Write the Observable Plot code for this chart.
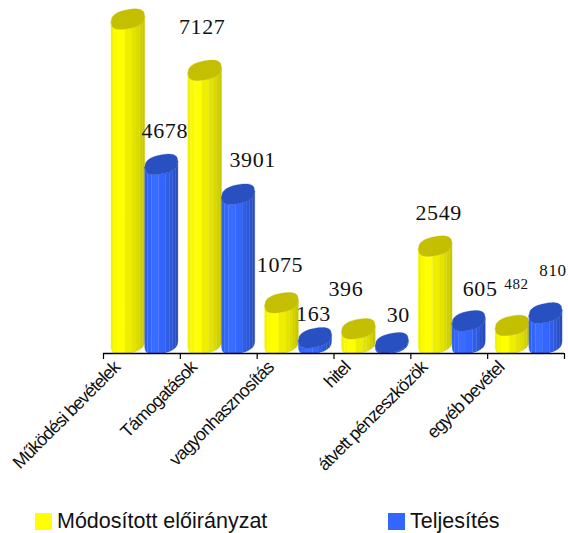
<!DOCTYPE html>
<html><head><meta charset="utf-8">
<script src="https://cdn.jsdelivr.net/npm/d3@7"></script>
<script src="https://cdn.jsdelivr.net/npm/@observablehq/plot@0.6"></script>
<style>
html,body{margin:0;padding:0;background:#fff}
#wrap{position:relative;width:568px;height:533px;overflow:hidden}
#chart svg{display:block;background:none}
#chart svg [font-family="Liberation Sans"]{letter-spacing:-0.9px}
#chart svg [font-family="Liberation Serif"]{letter-spacing:0.6px}
.lg{position:absolute;top:508px;font:21.5px "Liberation Sans",Arial,sans-serif;color:#111;white-space:nowrap;line-height:26px}
.sw{position:absolute;top:5px;width:17px;height:17px}
</style></head><body>
<div id="wrap"><div id="chart"></div>
<div id="legend"></div></div>
<script>
const categories = ["Működési bevételek","Támogatások","vagyonhasznosítás","hitel","átvett pénzeszközök","egyéb bevétel"];
const seriesNames = ["Módosított előirányzat","Teljesítés"];
const modositott = [8460,7127,1075,396,2549,482];
const teljesites = [4678,3901,163,30,605,810];
// the first bar's label falls outside the reference picture
const labelShown = [[false,true],[true,true],[true,true],[true,true],[true,true],[true,true]];

// styling and layout, separate from the data
const plotH = 500, baseY = 353, zeroY = 344, pxPerUnit = 0.0384, W = 568;
const yFloor = -(baseY - zeroY) / pxPerUnit, yTop = zeroY / pxPerUnit;
const u = px => px / pxPerUnit;
const slot = [[0.104,0.543],[0.543,0.975]];
const stops = [0,.08,.2,.42,.62,.74,.84,.93,1];
const shades = [
  ["#f2f200","#fbfb00","#ffff00","#eeee00","#e4e400","#dcdc00","#d2d200","#c8c800"],
  ["#3060f0","#3366ff","#3a6cff","#3366ff","#2f5ee8","#2c58dc","#2a52cc","#284cbc"]];
const capCol = ["#c4bf00","#2850c0"];
const legendCol = ["#ffff00","#3366ff"];
const tilt = 3, capH = 9.5, capPow = 2.5;
const nudges = [[null,[3,-34]],[[-3,-44],[14,-35]],[[-2,-38],[-2,-24]],[[-13,-40],[6,-28]],[[3,-34],[11,-32]],[[4,-42],[7,-43]]];
const labelSize = [[0,22],[22,22],[22,22],[22,22],[22,22],[15,17]];

const bulge = t => Math.pow(Math.max(0,1-Math.pow(Math.abs(t),capPow)),1/capPow);
const lower = t => tilt*t - capH*bulge(t);
const upper = t => tilt*t + capH*bulge(t);

const strips = [], caps = [], labels = [];
categories.forEach((c,i) => [modositott[i],teljesites[i]].forEach((v,s) => {
  const [a,b] = slot[s];
  const X = t => i + a + (b-a)*(t+1)/2;
  for (let k=0;k<stops.length-1;k++){
    for (let n=0;n<=6;n++){
      const f = stops[k]+(stops[k+1]-stops[k])*n/6, t = f*2-1;
      strips.push({z:`${i}-${s}-${k}`, x:X(t), y1:Math.max(yFloor,u(lower(t))), y2:v+u(lower(t)), col:shades[s][k]});
    }
  }
  for (let n=0;n<=40;n++){
    const t=-1+n/20;
    caps.push({z:`${i}-${s}`, x:X(t), y1:v+u(lower(t)), y2:v+u(upper(t)), col:capCol[s]});
  }
  if (labelShown[i][s]) labels.push({x:i+(a+b)/2, v, dx:nudges[i][s][0], dy:nudges[i][s][1], size:labelSize[i][s]});
}));
// draw order: each bar's body directly followed by its cap
const order = [];
categories.forEach((c,i)=>[0,1].forEach(s=>{
  order.push(Plot.areaY(strips.filter(d=>d.z.startsWith(`${i}-${s}-`)),{x:"x",y1:"y1",y2:"y2",z:"z",fill:"col",stroke:"col",strokeWidth:0.3}));
  order.push(Plot.areaY(caps.filter(d=>d.z===`${i}-${s}`),{x:"x",y1:"y1",y2:"y2",z:"z",fill:"col",stroke:"col",strokeWidth:0.3}));
}));

const chart = Plot.plot({
  width:W, height:plotH, marginLeft:103, marginRight:4, marginTop:0, marginBottom:plotH-baseY,
  style:{background:"none",overflow:"visible"},
  x:{domain:[0,6],axis:null},
  y:{domain:[yFloor,yTop],axis:null},
  color:{type:"identity"},
  marks:[
    ...order,
    Plot.ruleY([yFloor],{x1:0,x2:6,stroke:"#000",strokeWidth:1.5}),
    Plot.axisX({ticks:[0,1,2,3,4,5,6],tickFormat:()=>"",tickSize:6,stroke:"#000",strokeWidth:1.2,label:null}),
    Plot.text(categories,{x:(d,i)=>i+0.5,y:()=>yFloor,text:d=>d,rotate:-45,textAnchor:"end",dx:-25,dy:11,
      fontFamily:"Liberation Sans",fontSize:18,fill:"#111"}),
    ...labels.map(l=>Plot.text([l],{x:"x",y:"v",text:d=>String(d.v),dx:l.dx,dy:l.dy,
      fontFamily:"Liberation Serif",fontSize:l.size,fill:"#111"}))
  ]
});
document.getElementById("chart").append(chart);

const lg=document.getElementById("legend");
[[35,57],[388,410]].forEach(([sx,tx],i)=>{
  const sw=document.createElement("div");sw.className="lg sw";sw.style.cssText=`left:${sx}px;top:513px;background:${legendCol[i]}`;
  const t=document.createElement("div");t.className="lg";t.style.left=tx+"px";t.textContent=seriesNames[i];
  lg.append(sw,t);
});
</script></body></html>
